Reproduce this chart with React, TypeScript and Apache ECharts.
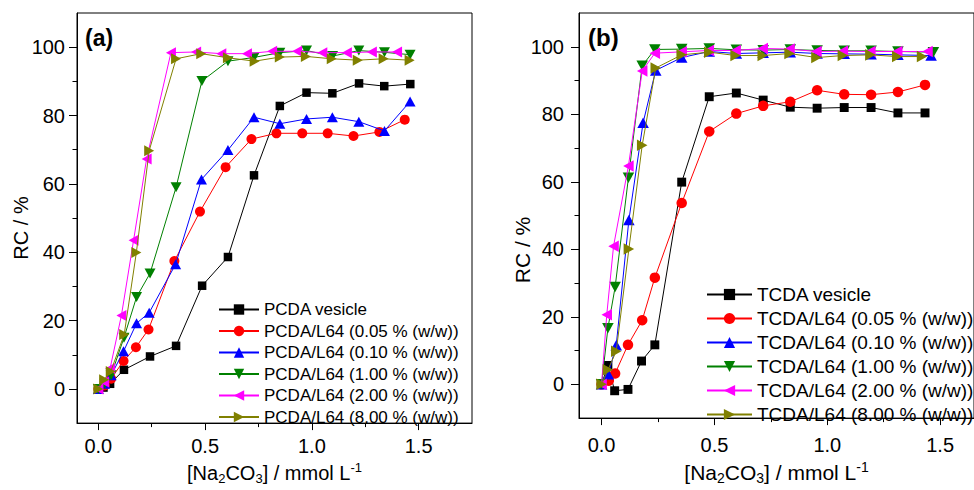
import React, { useEffect, useRef } from "react";
import * as echarts from "echarts";

// ---------- Panel (a): PCDA ----------
const pcdaVesicleX = [0, 0.024, 0.055, 0.12, 0.242, 0.364, 0.486, 0.607, 0.729, 0.85, 0.975, 1.096, 1.221, 1.339, 1.461];
const pcdaVesicleY = [0, 0.4, 1.5, 5.6, 9.5, 12.6, 30.2, 38.6, 62.5, 82.8, 86.7, 86.5, 89.4, 88.6, 89.2];
const pcda005X = [0, 0.03, 0.06, 0.118, 0.176, 0.235, 0.356, 0.476, 0.596, 0.717, 0.834, 0.955, 1.074, 1.195, 1.316, 1.435];
const pcda005Y = [0, 1, 3, 8.2, 12.2, 17.4, 37.4, 51.9, 64.9, 73.1, 74.8, 74.8, 74.8, 74.0, 75.2, 78.8];
const pcda010X = [0, 0.03, 0.06, 0.118, 0.179, 0.238, 0.362, 0.483, 0.607, 0.729, 0.85, 0.975, 1.096, 1.22, 1.34, 1.46];
const pcda010Y = [0, 1.5, 4, 11.0, 19.2, 22.3, 36.5, 61.3, 69.9, 79.5, 77.6, 79.0, 79.5, 78.2, 75.5, 84.1];
const pcda100X = [0, 0.03, 0.06, 0.12, 0.179, 0.242, 0.364, 0.485, 0.607, 0.729, 0.85, 0.975, 1.097, 1.22, 1.34, 1.46];
const pcda100Y = [0, 1.5, 4, 15, 26.9, 33.8, 59, 90.1, 95.9, 97.0, 98.4, 99.0, 97.4, 99.0, 98.5, 97.8];
const pcda200X = [0, 0.027, 0.055, 0.108, 0.165, 0.226, 0.34, 0.458, 0.576, 0.696, 0.814, 0.931, 1.049, 1.164, 1.281, 1.399];
const pcda200Y = [0, 2, 6, 21.5, 43.5, 67.3, 98.4, 98.6, 98.1, 98.1, 98.8, 98.8, 98.4, 98.4, 98.6, 98.6];
const pcda800X = [0, 0.027, 0.058, 0.121, 0.178, 0.238, 0.364, 0.482, 0.607, 0.732, 0.85, 0.972, 1.093, 1.215, 1.336, 1.458];
const pcda800Y = [0, 2.7, 5.1, 15.9, 39.9, 69.7, 96.6, 98.1, 96.9, 95.9, 97.1, 97.3, 96.6, 96.2, 96.6, 96.2];

// ---------- Panel (b): TCDA ----------
const tcdaVesicleX = [0, 0.028, 0.058, 0.117, 0.177, 0.236, 0.355, 0.477, 0.597, 0.716, 0.836, 0.955, 1.075, 1.194, 1.313, 1.433];
const tcdaVesicleY = [0, 5.6, -1.9, -1.5, 6.9, 11.7, 59.9, 85.2, 86.3, 84.2, 82.1, 81.8, 82.0, 82.0, 80.4, 80.4];
const tcda005X = [0, 0.032, 0.06, 0.117, 0.18, 0.236, 0.355, 0.477, 0.597, 0.716, 0.836, 0.955, 1.075, 1.194, 1.313, 1.433];
const tcda005Y = [0, 1.1, 3.2, 11.7, 19.0, 31.6, 53.7, 74.9, 80.2, 82.5, 83.7, 87.1, 85.9, 85.8, 86.6, 88.7];
const tcda010X = [0, 0.03, 0.065, 0.121, 0.184, 0.24, 0.355, 0.477, 0.597, 0.716, 0.836, 0.955, 1.075, 1.194, 1.313, 1.46];
const tcda010Y = [0, 3, 11.6, 48.7, 77.5, 93.0, 96.8, 98.6, 98.0, 98.2, 98.4, 98.0, 97.9, 97.8, 97.6, 97.4];
const tcda100X = [0, 0.028, 0.06, 0.119, 0.18, 0.236, 0.355, 0.477, 0.597, 0.716, 0.836, 0.955, 1.075, 1.194, 1.313, 1.47];
const tcda100Y = [0, 16.6, 28.8, 61.2, 94.4, 99.2, 99.3, 99.5, 99.1, 99.0, 99.2, 98.9, 98.8, 98.8, 98.6, 98.4];
const tcda200X = [0, 0.023, 0.053, 0.119, 0.18, 0.236, 0.355, 0.475, 0.594, 0.714, 0.833, 0.952, 1.069, 1.191, 1.31, 1.444];
const tcda200Y = [0, 20.6, 40.9, 64.7, 92.8, 98.1, 98.5, 98.9, 98.9, 99.5, 99.3, 98.6, 98.7, 98.6, 98.6, 98.6];
const tcda800X = [0, 0.028, 0.065, 0.121, 0.18, 0.24, 0.355, 0.477, 0.594, 0.714, 0.833, 0.952, 1.069, 1.191, 1.31, 1.42];
const tcda800Y = [0, 4.3, 9.8, 40.1, 70.8, 93.7, 97.6, 98.4, 97.4, 97.4, 98.0, 96.8, 97.4, 97.6, 97.1, 97.1];

// ---------- Axes ----------
const xMajorTicks = [0, 0.5, 1.0, 1.5];
const xMinorTicks = [0.25, 0.75, 1.25];
const yMajorTicks = [0, 20, 40, 60, 80, 100];
const yMinorTicks = [10, 30, 50, 70, 90];

const pcdaNames = [
  "PCDA vesicle",
  "PCDA/L64 (0.05 % (w/w))",
  "PCDA/L64 (0.10 % (w/w))",
  "PCDA/L64 (1.00 % (w/w))",
  "PCDA/L64 (2.00 % (w/w))",
  "PCDA/L64 (8.00 % (w/w))",
];
const tcdaNames = [
  "TCDA vesicle",
  "TCDA/L64 (0.05 % (w/w))",
  "TCDA/L64 (0.10 % (w/w))",
  "TCDA/L64 (1.00 % (w/w))",
  "TCDA/L64 (2.00 % (w/w))",
  "TCDA/L64 (8.00 % (w/w))",
];

const colors = ["#000000", "#ff0000", "#0000ff", "#008000", "#ff00ff", "#808000"];
const symbols = [
  "rect",
  "circle",
  "triangle",
  "path://M0,0 L10,0 L5,9 Z",
  "path://M0,5 L9,0 L9,10 Z",
  "path://M0,0 L9,5 L0,10 Z",
];
const symbolSizes: any[] = [8.5, 10, [11, 10], [11, 10], [10, 11], [10, 11]];

const FONT = '"Liberation Sans", Arial, Helvetica, sans-serif';

const zip = (xs: number[], ys: number[]) => xs.map((x, i) => [x, ys[i]]);

const pcdaData = [
  zip(pcdaVesicleX, pcdaVesicleY),
  zip(pcda005X, pcda005Y),
  zip(pcda010X, pcda010Y),
  zip(pcda100X, pcda100Y),
  zip(pcda200X, pcda200Y),
  zip(pcda800X, pcda800Y),
];
const tcdaData = [
  zip(tcdaVesicleX, tcdaVesicleY),
  zip(tcda005X, tcda005Y),
  zip(tcda010X, tcda010Y),
  zip(tcda100X, tcda100Y),
  zip(tcda200X, tcda200Y),
  zip(tcda800X, tcda800Y),
];

function makeAxes(
  gridIndex: number,
  xMax: number,
  xNameGap: number,
  xNameSize: number,
  xLabelMargin: number,
  yLabelMargin: number
) {
  const xMajor = {
    type: "value",
    gridIndex,
    min: -0.1,
    max: xMax,
    position: "bottom",
    axisLine: { show: true, onZero: false, lineStyle: { color: "#000", width: 1 } },
    axisTick: { show: true, length: 7, customValues: xMajorTicks, lineStyle: { color: "#000" } },
    axisLabel: {
      show: true,
      customValues: xMajorTicks,
      margin: xLabelMargin,
      fontSize: 20,
      fontFamily: FONT,
      color: "#000",
      formatter: (v: number) => v.toFixed(1),
    },
    splitLine: { show: false },
    name: "[Na{sub|2}CO{sub|3}] / mmol L{sup|-1}",
    nameLocation: "middle",
    nameGap: xNameGap,
    nameTextStyle: {
      fontSize: xNameSize,
      fontFamily: FONT,
      color: "#000",
      rich: {
        sub: {
          fontSize: Math.round(xNameSize * 0.65),
          fontFamily: FONT,
          color: "#000",
          verticalAlign: "bottom",
          padding: [11, 0, 0, 0],
        },
        sup: {
          fontSize: Math.round(xNameSize * 0.65),
          fontFamily: FONT,
          color: "#000",
          verticalAlign: "top",
          padding: [0, 0, 9, 0],
        },
      },
    },
  };
  const xMinor = {
    type: "value",
    gridIndex,
    min: -0.1,
    max: xMax,
    position: "bottom",
    axisLine: { show: false, onZero: false },
    axisTick: { show: true, length: 4, customValues: xMinorTicks, lineStyle: { color: "#000" } },
    axisLabel: { show: false },
    splitLine: { show: false },
  };
  const yMajor = {
    type: "value",
    gridIndex,
    min: -10,
    max: 110,
    position: "left",
    axisLine: { show: true, onZero: false, lineStyle: { color: "#000", width: 1 } },
    axisTick: { show: true, length: 8, customValues: yMajorTicks, lineStyle: { color: "#000" } },
    axisLabel: {
      show: true,
      customValues: yMajorTicks,
      margin: yLabelMargin,
      fontSize: 20,
      fontFamily: FONT,
      color: "#000",
    },
    splitLine: { show: false },
  };
  const yMinor = {
    type: "value",
    gridIndex,
    min: -10,
    max: 110,
    position: "left",
    axisLine: { show: false, onZero: false },
    axisTick: { show: true, length: 4.5, customValues: yMinorTicks, lineStyle: { color: "#000" } },
    axisLabel: { show: false },
    splitLine: { show: false },
  };
  return { x: [xMajor, xMinor], y: [yMajor, yMinor] };
}

function makeSeries(names: string[], data: number[][][], axisIndex: number, scale: number) {
  return names.map((name, i) => ({
    name,
    type: "line",
    xAxisIndex: axisIndex,
    yAxisIndex: axisIndex,
    data: data[i],
    symbol: symbols[i],
    symbolSize: Array.isArray(symbolSizes[i])
      ? symbolSizes[i].map((s: number) => s * scale)
      : symbolSizes[i] * scale,
    showAllSymbol: true,
    lineStyle: { color: colors[i], width: 1 },
    itemStyle: { color: colors[i] },
    emphasis: { disabled: true },
    z: 2 + i,
  }));
}

export default function App() {
  const ref = useRef<HTMLDivElement>(null);
  useEffect(() => {
    if (!ref.current) return;
    const chart = echarts.init(ref.current, undefined, { renderer: "svg" });
    const a = makeAxes(0, 1.75, 27, 20, 13, 12);
    const b = makeAxes(1, 1.65, 34, 21, 17, 15);
    const option: any = {
      animation: false,
      backgroundColor: "#ffffff",
      grid: [
        { left: 77, top: 13, width: 395, height: 419, show: true, borderColor: "#000", borderWidth: 1, containLabel: false },
        { left: 579, top: 13, width: 415, height: 416, show: true, borderColor: "#000", borderWidth: 1, containLabel: false },
      ],
      xAxis: [...a.x, ...b.x],
      yAxis: [...a.y, ...b.y],
      legend: [
        {
          data: pcdaNames,
          orient: "vertical",
          left: 218,
          top: 301,
          itemWidth: 40,
          itemHeight: 13,
          itemGap: 4.5,
          padding: 0,
          textStyle: { fontSize: 17, fontFamily: FONT, color: "#000" },
          selectedMode: false,
        },
        {
          data: tcdaNames,
          orient: "vertical",
          left: 706,
          top: 285,
          itemWidth: 45,
          itemHeight: 14,
          itemGap: 5,
          padding: 0,
          textStyle: { fontSize: 19, fontFamily: FONT, color: "#000" },
          selectedMode: false,
        },
      ],
      graphic: [
        {
          type: "text",
          left: 85,
          top: 26,
          style: { text: "(a)", font: `bold 23px ${FONT}`, fill: "#000" },
        },
        {
          type: "text",
          left: 588,
          top: 25,
          style: { text: "(b)", font: `bold 24px ${FONT}`, fill: "#000" },
        },
        {
          type: "text",
          x: 21,
          y: 228,
          rotation: Math.PI / 2,
          style: { text: "RC / %", font: `20px ${FONT}`, fill: "#000", align: "center", verticalAlign: "middle" },
        },
        {
          type: "text",
          x: 522,
          y: 250,
          rotation: Math.PI / 2,
          style: { text: "RC / %", font: `21px ${FONT}`, fill: "#000", align: "center", verticalAlign: "middle" },
        },
      ],
      series: [...makeSeries(pcdaNames, pcdaData, 0, 1), ...makeSeries(tcdaNames, tcdaData, 2, 1.05)],
    };
    chart.setOption(option);
    return () => chart.dispose();
  }, []);
  return (
    <div
      ref={ref}
      style={{ position: "fixed", left: 0, top: 0, width: 974, height: 490, background: "#fff" }}
    />
  );
}
